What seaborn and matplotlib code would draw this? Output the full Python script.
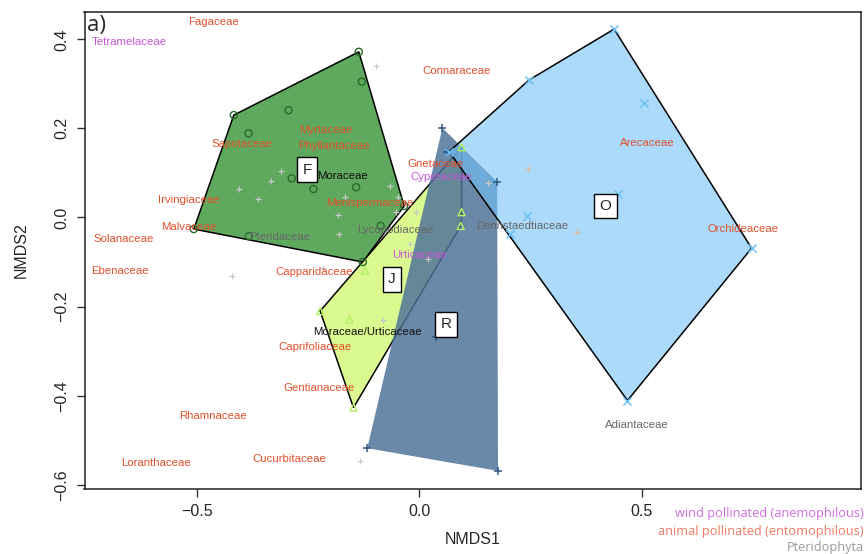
import numpy as np
import pandas as pd
import matplotlib
matplotlib.use("Agg")
import matplotlib.pyplot as plt
import seaborn as sns

# ---------------- data ----------------
F_x = [-0.136, -0.417, -0.507, -0.127, -0.034, -0.129, -0.294, -0.384, -0.287, -0.238, -0.142, -0.087, -0.383]
F_y = [0.372, 0.230, -0.026, -0.100, 0.026, 0.305, 0.241, 0.189, 0.088, 0.064, 0.068, -0.019, -0.042]

J_x = [-0.223, 0.095, 0.095, 0.093, -0.148, -0.122, -0.157]
J_y = [-0.210, 0.158, 0.012, -0.019, -0.427, -0.119, -0.229]

R_x = [0.052, 0.175, 0.177, -0.117, 0.038, 0.063]
R_y = [0.201, 0.080, -0.569, -0.518, -0.268, 0.147]

O_x = [0.438, 0.247, 0.067, 0.468, 0.747, 0.506, 0.447, 0.241, 0.203]
O_y = [0.423, 0.309, 0.148, -0.411, -0.069, 0.256, 0.052, 0.003, -0.036]

other_x = [-0.097, -0.310, -0.333, -0.405, -0.362, -0.166, -0.067, -0.182, -0.181, -0.053,
           -0.047, -0.007, -0.021, 0.020, -0.081, -0.216, 0.155, -0.422, -0.133]
other_y = [0.341, 0.105, 0.083, 0.063, 0.042, 0.047, 0.071, 0.006, -0.036, 0.012,
           0.045, 0.013, -0.060, -0.094, -0.230, -0.113, 0.078, -0.131, -0.546]
tan_x = [0.245, 0.354]
tan_y = [0.110, -0.033]

group_names = ["F", "J", "O", "R"]
group_label_x = [-0.252, -0.062, 0.419, 0.060]
group_label_y = [0.107, -0.139, 0.026, -0.240]

family_names = ["Fagaceae", "Tetramelaceae", "Connaraceae", "Myrtaceae", "Phyllantaceae",
                "Sapotaceae", "Moraceae", "Irvingiaceae", "Menispermaceae", "Malvaceae",
                "Pteridaceae", "Solanaceae", "Lycopodiaceae", "Gnetaceae", "Cyperaceae",
                "Urticaceae", "Capparidaceae", "Moraceae/Urticaceae", "Caprifoliaceae",
                "Gentianaceae", "Rhamnaceae", "Loranthaceae", "Cucurbitaceae", "Ebenaceae",
                "Dennstaedtiaceae", "Arecaceae", "Orchideaceae", "Adiantaceae"]
family_x = [-0.463, -0.652, 0.085, -0.211, -0.192, -0.399, -0.172, -0.517, -0.111, -0.518,
            -0.313, -0.665, -0.054, 0.037, 0.050, 0.000, -0.236, -0.117, -0.234,
            -0.225, -0.464, -0.592, -0.293, -0.674, 0.232, 0.513, 0.727, 0.489]
family_y = [0.439, 0.393, 0.330, 0.196, 0.161, 0.166, 0.093, 0.039, 0.033, -0.021,
            -0.044, -0.048, -0.029, 0.121, 0.090, -0.084, -0.122, -0.256, -0.291,
            -0.382, -0.445, -0.552, -0.543, -0.120, -0.018, 0.168, -0.026, -0.467]
family_type = ["animal", "wind", "animal", "animal", "animal",
               "animal", "mixed", "animal", "animal", "animal",
               "fern", "animal", "fern", "animal", "wind",
               "wind", "animal", "mixed", "animal",
               "animal", "animal", "animal", "animal", "animal",
               "fern", "animal", "animal", "fern"]

legend_texts = ["wind pollinated (anemophilous)", "animal pollinated (entomophilous)", "Pteridophyta"]

x_ticks = [-0.5, 0.0, 0.5]
y_ticks = [-0.6, -0.4, -0.2, 0.0, 0.2, 0.4]

# ---------------- style ----------------
sns.set_style("ticks")
plt.rcParams["font.family"] = ["Liberation Sans", "DejaVu Sans"]

type_colors = {"animal": "#e2502c", "wind": "#c855d8", "fern": "#666666", "mixed": "#111111"}
legend_colors = ["#cf6ee0", "#f07a62", "#9a9a9a"]


def convex_hull(xs, ys):
    pts = sorted(set(zip(xs, ys)))
    def cross(o, a, b):
        return (a[0] - o[0]) * (b[1] - o[1]) - (a[1] - o[1]) * (b[0] - o[0])
    lower, upper = [], []
    for p in pts:
        while len(lower) >= 2 and cross(lower[-2], lower[-1], p) <= 0:
            lower.pop()
        lower.append(p)
    for p in reversed(pts):
        while len(upper) >= 2 and cross(upper[-2], upper[-1], p) <= 0:
            upper.pop()
        upper.append(p)
    h = lower[:-1] + upper[:-1]
    return [p[0] for p in h], [p[1] for p in h]


fig = plt.figure(figsize=(8.66, 5.54), dpi=100)
W, H = 866, 554
left, right, top, bottom = 84.5, 861, 12, 489
ax = fig.add_axes([left / W, 1 - bottom / H, (right - left) / W, (bottom - top) / H])

# drawing order F, J, R, O (O translucent over R); R has no outline
groups = {
    "F": dict(x=F_x, y=F_y, fill="#5fa95f", alpha=1.0, edge=True, mcol="#2a6a2a", marker="o", z=1),
    "J": dict(x=J_x, y=J_y, fill="#dafa90", alpha=1.0, edge=True, mcol="#b4ee62", marker="^", z=2),
    "R": dict(x=R_x, y=R_y, fill="#4d7299", alpha=0.84, edge=False, mcol="#2f5a86", marker="+", z=3),
    "O": dict(x=O_x, y=O_y, fill="#74c2f7", alpha=0.6, edge=True, mcol="#6cc0f2", marker="x", z=4),
}

for name, g in groups.items():
    hx, hy = convex_hull(g["x"], g["y"])
    ax.fill(hx, hy, facecolor=g["fill"], alpha=g["alpha"], edgecolor="none", zorder=g["z"])
    if g["edge"]:
        ax.fill(hx, hy, facecolor="none", edgecolor="black", linewidth=1.1, zorder=g["z"] + 0.1)

# points
df_other = pd.DataFrame({"NMDS1": other_x, "NMDS2": other_y})
sns.scatterplot(data=df_other, x="NMDS1", y="NMDS2", marker="+", color="#c8c8c8",
                s=24, linewidth=0.9, ax=ax, zorder=5)
df_tan = pd.DataFrame({"NMDS1": tan_x, "NMDS2": tan_y})
sns.scatterplot(data=df_tan, x="NMDS1", y="NMDS2", marker="+", color="#dcbca0",
                s=24, linewidth=0.9, ax=ax, zorder=5)

for name, g in groups.items():
    d = pd.DataFrame({"NMDS1": g["x"], "NMDS2": g["y"]})
    if g["marker"] in ("o", "^"):
        sns.scatterplot(data=d, x="NMDS1", y="NMDS2", marker=g["marker"], facecolor="none",
                        edgecolor=g["mcol"], s=26, linewidth=1.0, ax=ax, zorder=6)
    else:
        sns.scatterplot(data=d, x="NMDS1", y="NMDS2", marker=g["marker"], color=g["mcol"],
                        s=34, linewidth=1.1, ax=ax, zorder=6)

# family labels
for nm, x, y, t in zip(family_names, family_x, family_y, family_type):
    ax.text(x, y, nm, color=type_colors[t], fontsize=8.2, ha="center", va="center", zorder=8)

# group boxes
for nm, x, y in zip(group_names, group_label_x, group_label_y):
    ax.text(x, y, nm, fontsize=11, ha="center", va="center", zorder=9,
            bbox=dict(boxstyle="square,pad=0.35", facecolor="white", edgecolor="black", linewidth=1.0))

ax.set_xlim(-0.7527, 0.993)
ax.set_ylim(-0.6096, 0.4614)
ax.set_xticks(x_ticks)
ax.set_yticks(y_ticks)
ax.set_xticklabels([f"{v:.1f}".replace("-", "\u2212") for v in x_ticks])
ax.set_yticklabels([f"{v:.1f}".replace("-", "\u2212") for v in y_ticks], rotation=90, va="center")
ax.tick_params(axis="both", labelsize=11.5, length=6, width=1.0, color="#333333", pad=5)
ax.set_xlabel("NMDS1", fontsize=11.5, labelpad=9)
ax.set_ylabel("NMDS2", fontsize=11.5, labelpad=18)
for sp in ax.spines.values():
    sp.set_visible(True)
    sp.set_color("#222222")
    sp.set_linewidth(1.1)

ax.text(0.003, 0.993, "a)", transform=ax.transAxes, ha="left", va="top", fontsize=16,
        family=["Open Sans", "DejaVu Sans"], zorder=10)

for txt, col, yy in zip(legend_texts, legend_colors, [514, 531.5, 548]):
    fig.text(864 / W, 1 - yy / H, txt, color=col, fontsize=9.2, ha="right", va="center",
             family=["Open Sans", "DejaVu Sans"])

fig.savefig("out.png", dpi=100)
